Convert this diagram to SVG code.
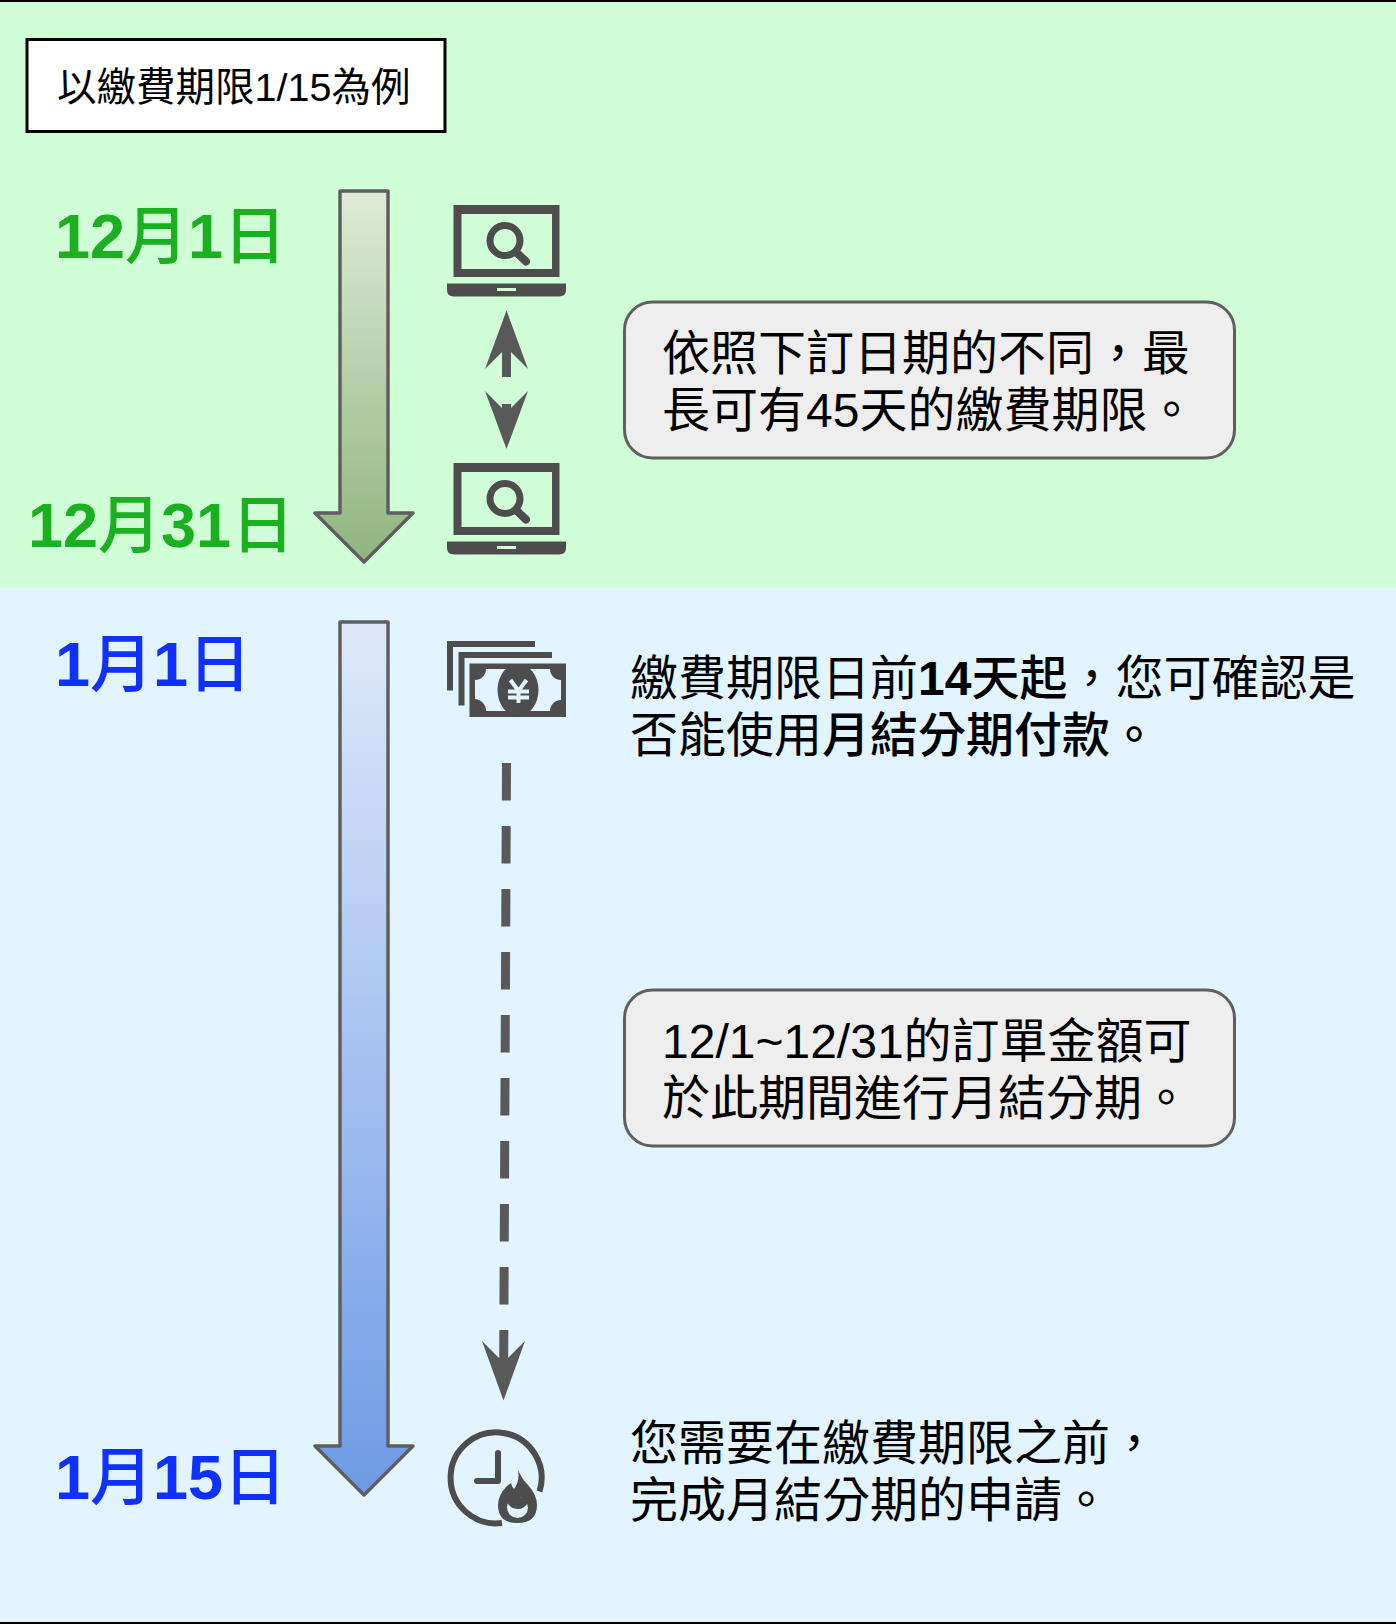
<svg xmlns="http://www.w3.org/2000/svg" width="1396" height="1624" viewBox="0 0 1396 1624">
<style>
text{font-family:"Liberation Sans","Noto Sans CJK TC",sans-serif;fill:#000}
.m{font-size:48px}
.d{font-size:63px;font-weight:500}
.g{fill:#1ab01f}
.b{fill:#1030ff}
.s{font-weight:bold}
.c{font-weight:500}
.ar{stroke:#5f5f5f;stroke-width:3.500;stroke-linejoin:round}
.box{fill:#eeeeee;stroke:#5f5f5f;stroke-width:3}
.ic{fill:#4d4d4d}
.dk{fill:#595959}
</style>
<defs>
<linearGradient id="gg" x1="0" y1="0" x2="0" y2="1"><stop offset="0" stop-color="#dfebd8"/><stop offset="1" stop-color="#8fb57f"/></linearGradient>
<linearGradient id="bg" x1="0" y1="0" x2="0" y2="1"><stop offset="0" stop-color="#e0e9fa"/><stop offset="1" stop-color="#6d9ae6"/></linearGradient>
<g id="lap">
<path class="ic" fill-rule="evenodd" d="M453.500 205H559.500V277H453.500ZM461.500 214V269H552V214Z"/>
<path class="ic" fill-rule="evenodd" d="M447 283.500H566V290Q566 296.500 559 296.500H454Q447 296.500 447 290ZM497 288V291H516V288Z"/>
<circle cx="505" cy="240.500" r="15" fill="none" stroke="#4d4d4d" stroke-width="7"/>
<path d="M516 252L526 261.500" stroke="#4d4d4d" stroke-width="8" stroke-linecap="round"/>
</g>
</defs>
<rect width="1396" height="1624" fill="#fff"/>
<rect y="0" width="1396" height="588" fill="#d0fed7"/>
<rect y="588" width="1396" height="1034" fill="#e1f4ff"/>
<rect y="0" width="1396" height="2" fill="#000"/>
<rect y="1622" width="1396" height="2" fill="#000"/>

<g id="note-example">
<rect x="27" y="39.500" width="418" height="92" fill="#fff" stroke="#000" stroke-width="3"/>
<text x="57" y="101" font-size="39.500">以繳費期限1/15為例</text>
</g>

<g id="dates">
<text class="d g" x="55" y="258"><tspan class="s">12</tspan>月<tspan class="s">1</tspan>日</text>
<text class="d g" x="28" y="547"><tspan class="s">12</tspan>月<tspan class="s">31</tspan>日</text>
<text class="d b" x="55" y="686"><tspan class="s">1</tspan>月<tspan class="s">1</tspan>日</text>
<text class="d b" x="55" y="1499"><tspan class="s">1</tspan>月<tspan class="s">15</tspan>日</text>
</g>

<g id="timeline-green"><path class="ar" fill="url(#gg)" d="M340 191H388V513H413L364 562L315 513H340Z"/></g>
<g id="timeline-blue"><path class="ar" fill="url(#bg)" d="M340 622H388V1446H413L364 1495L315 1446H340Z"/></g>

<g id="laptop-1"><use href="#lap"/></g>
<g id="laptop-2"><use href="#lap" y="258"/></g>

<g id="money">
<path class="ic" d="M447 641H535V647H453V690.500H447Z"/>
<path class="ic" d="M458.500 652H552V658H464.500V705.500H458.500Z"/>
<path class="ic" fill-rule="evenodd" d="M469.500 663.500H566V717H469.500ZM486 669A11 11 0 0 1 475 680V699A12 12 0 0 1 486 711H550A11 11 0 0 1 561 700V680A11 11 0 0 1 550 669Z"/>
<ellipse cx="518" cy="690" rx="20.500" ry="26" class="ic"/>
<path d="M510.500 680L518.500 691L526.500 680M518.500 691V703M508 691.500H529M508 697.500H529" fill="none" stroke="#e1f4ff" stroke-width="4"/>
</g>

<g id="clock">
<path d="M539.500 1491.500A45.500 45.500 0 1 0 502 1523" fill="none" stroke="#4d4d4d" stroke-width="6"/>
<path d="M498 1453V1481H477" fill="none" stroke="#4d4d4d" stroke-width="6" stroke-linecap="round" stroke-linejoin="round"/>
<path class="ic" d="M518 1470Q522 1479 528 1485Q537 1495 537 1505Q537 1523 517 1523Q498 1523 498 1505Q498 1495 507 1486L511 1483Q512 1487 514 1489Q520 1481 518 1470Z"/>
<circle cx="517.500" cy="1507.500" r="10.500" fill="#e1f4ff"/>
<path class="ic" d="M517 1494Q507 1497 507.500 1503Q511 1509 517.500 1509Q524 1509 528 1503Q526 1497 523 1496Q521 1500 517 1494Z"/>
</g>

<g id="connectors">
<path class="dk" d="M506.500 310.500L528 369L511 352V377H502V352L485 369Z"/>
<path class="dk" d="M506.500 449L485 391L502 408V404H511V408L528 391Z"/>
<path d="M506.500 763L503.700 1362" stroke="#595959" stroke-width="9" stroke-dasharray="37.500 25.500" fill="none"/>
<path class="dk" d="M503.500 1400.500L482 1341L499 1358H508L525 1341Z"/>
</g>

<g id="note-45">
<rect class="box" x="624.500" y="302" width="610" height="156" rx="28"/>
<text class="m" x="662" y="370">依照下訂日期的不同，最</text>
<text class="m" x="662" y="427">長可有45天的繳費期限。</text>
</g>
<g id="text-14">
<text class="m" x="630" y="695">繳費期限日前<tspan class="s">14</tspan><tspan class="c">天起</tspan>，您可確認是</text>
<text class="m" x="630" y="752">否能使用<tspan class="c">月結分期付款。</tspan></text>
</g>
<g id="note-period">
<rect class="box" x="624.500" y="990" width="610" height="156" rx="28"/>
<text class="m" x="662" y="1058">12/1~12/31的訂單金額可</text>
<text class="m" x="662" y="1115">於此期間進行月結分期。</text>
</g>
<g id="text-apply">
<text class="m" x="630" y="1460">您需要在繳費期限之前，</text>
<text class="m" x="630" y="1517">完成月結分期的申請。</text>
</g>
</svg>
